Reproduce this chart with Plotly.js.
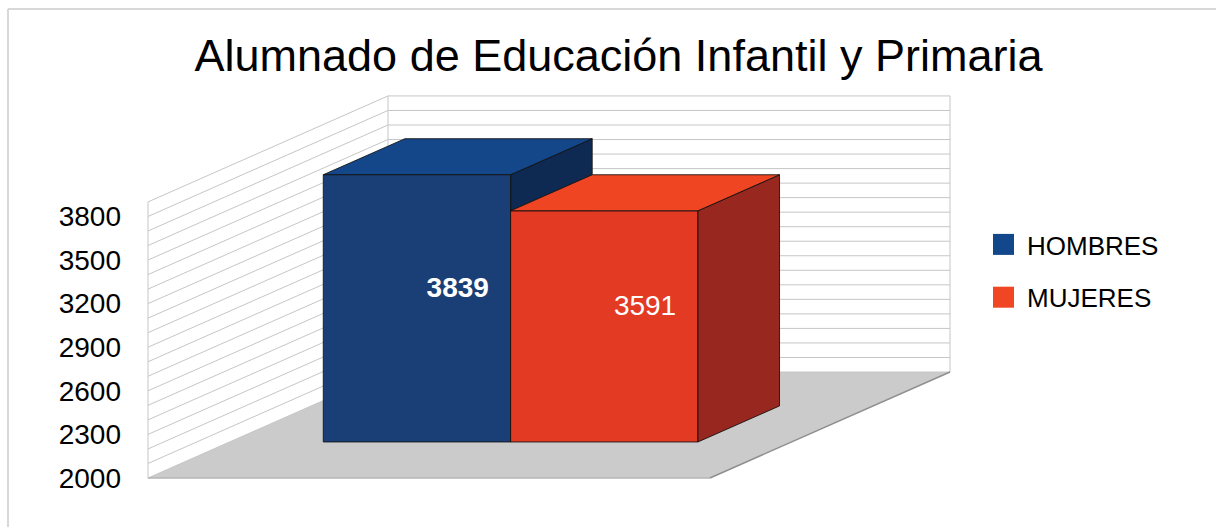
<!DOCTYPE html>
<html><head><meta charset="utf-8">
<script src="https://cdn.plot.ly/plotly-3.0.1.min.js"></script>
<style>html,body{margin:0;padding:0;background:#fff;} #chart{width:1216px;height:527px;}</style>
</head><body><div id="chart"></div>
<script>
const chartTitle = 'Alumnado de Educación Infantil y Primaria';
const categories = ['HOMBRES', 'MUJERES'];
const values = [3839, 3591];
const yTicks = [2000, 2300, 2600, 2900, 3200, 3500, 3800];
const frontColors = ['#1a3f76', '#e33a23'];
const topColors = ['#14478a', '#ef4522'];
const sideColors = ['#0f2a52', '#97271f'];
const legendColors = ['#12478c', '#f04623'];

// ---- geometry / style ----
const W = 1216, H = 527;
const ML = 126;
const AX_MIN = 2000, AX_MAX = 3900, GRID_STEP = 100;
const Y0PX = 478;
const K = 0.1453;
const FLOOR_X0 = 148, FLOOR_W = 562;
const DX = 240, DYPX = 106;
const DY = DYPX / K;
const D_FRONT = 0.34, D_BACK = 0.68;
const yLo = AX_MIN - (H - Y0PX) / K;
const yHi = AX_MIN + Y0PX / K;
const FONT = 'Liberation Sans, Arial, sans-serif';

function P(x, d, v) { return [x + d * DX, v + d * DY]; }
function path(pts) { return 'M' + pts.map(p => p[0].toFixed(2) + ',' + p[1].toFixed(2)).join('L') + 'Z'; }
function seg(a, b, color, width, layer) {
  return {type: 'line', xref: 'x', yref: 'y', x0: a[0], y0: a[1], x1: b[0], y1: b[1],
          line: {color: color, width: width}, layer: layer || 'below'};
}

const shapes = [];
// floor
const fx1 = FLOOR_X0 + FLOOR_W;
shapes.push({type: 'path', xref: 'x', yref: 'y', layer: 'below',
  path: path([P(FLOOR_X0, 0, AX_MIN), P(fx1, 0, AX_MIN), P(fx1, 1, AX_MIN), P(FLOOR_X0, 1, AX_MIN)]),
  fillcolor: '#cbcbcb', line: {width: 0}});
// wall grid lines
for (let g = AX_MIN; g <= AX_MAX; g += GRID_STEP) {
  shapes.push(seg(P(FLOOR_X0, 0, g), P(FLOOR_X0, 1, g), '#c6c6c6', 1));
  shapes.push(seg(P(FLOOR_X0, 1, g), P(fx1, 1, g), '#c6c6c6', 1));
}
// wall edges
shapes.push(seg(P(FLOOR_X0, 0, AX_MIN), P(FLOOR_X0, 0, AX_MAX), '#c6c6c6', 1));
shapes.push(seg(P(FLOOR_X0, 1, AX_MIN), P(FLOOR_X0, 1, AX_MAX), '#c6c6c6', 1));
shapes.push(seg(P(fx1, 1, AX_MIN), P(fx1, 1, AX_MAX), '#c6c6c6', 1));
// floor edges
shapes.push(seg(P(FLOOR_X0, 0, AX_MIN), P(fx1, 0, AX_MIN), '#b4b4b4', 1.5));
shapes.push(seg(P(fx1, 0, AX_MIN), P(fx1, 1, AX_MIN), '#8f8f8f', 1.5));

// bars
const barW = FLOOR_W / 3;
const groupStart = FLOOR_X0 + (FLOOR_W - categories.length * barW) / 2;
const traces = [];
const labX = [], labY = [], labT = [];
categories.forEach((name, i) => {
  const left = groupStart + i * barW, right = left + barW, v = values[i];
  const layer = i === 0 ? 'between' : 'above';
  shapes.push({type: 'path', xref: 'x', yref: 'y', layer: layer,
    path: path([P(right, D_FRONT, AX_MIN), P(right, D_BACK, AX_MIN), P(right, D_BACK, v), P(right, D_FRONT, v)]),
    fillcolor: sideColors[i], line: {color: 'rgba(15,15,15,0.85)', width: 1}});
  shapes.push({type: 'path', xref: 'x', yref: 'y', layer: layer,
    path: path([P(left, D_FRONT, v), P(right, D_FRONT, v), P(right, D_BACK, v), P(left, D_BACK, v)]),
    fillcolor: topColors[i], line: {color: 'rgba(15,15,15,0.85)', width: 1}});
  traces.push({
    type: 'bar', name: name, legendgroup: name,
    x: [left + barW / 2 + D_FRONT * DX], y: [v - AX_MIN], base: [AX_MIN + D_FRONT * DY], width: [barW],
    marker: {color: frontColors[i], line: {color: 'rgba(15,15,15,0.85)', width: 1}},
    hoverinfo: 'skip'
  });
  const c = P(left + barW / 2, (D_FRONT + D_BACK) / 2, (AX_MIN + v) / 2);
  labX.push(c[0]); labY.push(c[1]);
  labT.push(i === 0 ? '<b>' + v + '</b>' : String(v));
});
traces.push({type: 'scatter', mode: 'text', x: labX, y: labY, text: labT,
  textposition: 'middle center', textfont: {color: '#ffffff', size: 28, family: FONT},
  showlegend: false, hoverinfo: 'skip', cliponaxis: false});

// outer border
shapes.push({type: 'line', xref: 'paper', yref: 'paper', x0: (8 - ML) / (W - ML), x1: 1, y0: 1 - 9 / H, y1: 1 - 9 / H,
  line: {color: '#d8d8d8', width: 2}, layer: 'above'});
shapes.push({type: 'line', xref: 'paper', yref: 'paper', x0: (8 - ML) / (W - ML), x1: (8 - ML) / (W - ML), y0: 0, y1: 1 - 9 / H,
  line: {color: '#d8d8d8', width: 2}, layer: 'above'});

const layout = {
  width: W, height: H,
  margin: {l: ML, r: 0, t: 0, b: 0, pad: 0},
  paper_bgcolor: '#ffffff', plot_bgcolor: '#ffffff',
  title: {text: chartTitle, font: {family: FONT, size: 45, color: '#000'},
          x: 618.5 / W, xref: 'container', xanchor: 'center', y: 1 - 55 / H, yref: 'container', yanchor: 'middle'},
  xaxis: {range: [ML, W], showgrid: false, zeroline: false, showticklabels: false, showline: false, ticks: '', fixedrange: true},
  yaxis: {range: [yLo, yHi], tickvals: yTicks, showgrid: false, zeroline: false, showline: false, ticks: '',
          ticklabelstandoff: 4,
          tickfont: {family: FONT, size: 28, color: '#000'}, fixedrange: true},
  barmode: 'overlay',
  showlegend: true,
  legend: {x: (987 - ML) / (W - ML), y: 1 - 221 / H, xanchor: 'left', yanchor: 'top',
           font: {family: FONT, size: 26, color: '#000'}, traceorder: 'grouped', tracegroupgap: 16,
           bgcolor: 'rgba(0,0,0,0)'},
  shapes: shapes
};

Plotly.newPlot('chart', traces, layout, {displayModeBar: false, staticPlot: true}).then(() => {
  document.querySelectorAll('#chart .legend .traces').forEach((t, i) => {
    t.querySelectorAll('path.legendbar, .legendpoints path').forEach(p => {
      p.setAttribute('d', 'M7,10.5H-14V-10.5H7Z');
      p.style.fill = legendColors[i];
      p.style.stroke = 'none';
    });
  });
});
</script>
</body></html>
